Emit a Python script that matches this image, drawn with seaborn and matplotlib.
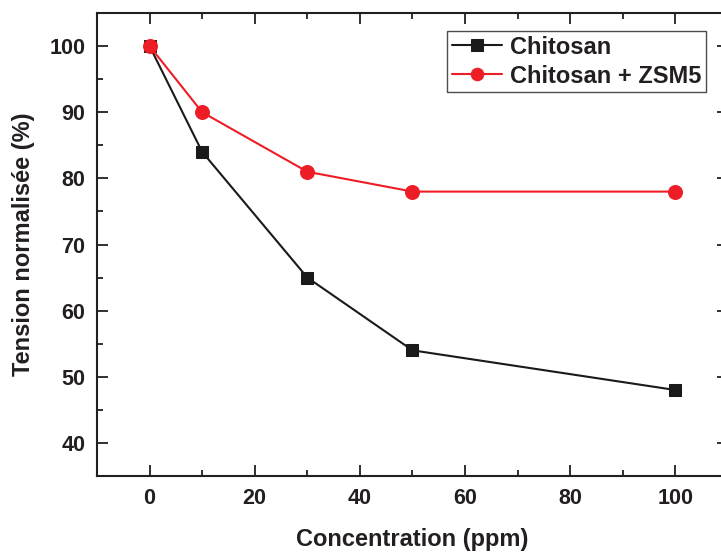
import matplotlib
matplotlib.use("Agg")
import matplotlib.pyplot as plt
from matplotlib.ticker import MultipleLocator
import seaborn as sns
import pandas as pd

concentration = [0, 10, 30, 50, 100]
chitosan = [100, 84, 65, 54, 48]
chitosan_zsm5 = [100, 90, 81, 78, 78]
series_names = ["Chitosan", "Chitosan + ZSM5"]

df = pd.DataFrame({
    "x": concentration * 2,
    "y": chitosan + chitosan_zsm5,
    "s": [series_names[0]] * len(concentration) + [series_names[1]] * len(concentration),
})

sns.set_style("ticks")
plt.rcParams['font.family'] = ['Liberation Sans', 'DejaVu Sans']
plt.rcParams['font.weight'] = 'bold'

fig = plt.figure(figsize=(7.21, 5.52), dpi=100)
ax = fig.add_axes([97/721, 1-476/552, (728-97)/721, (476-13)/552])

sns.lineplot(data=df, x="x", y="y", hue="s", style="s",
             palette={series_names[0]: "#1a1a1a", series_names[1]: "#ee1c25"},
             markers={series_names[0]: "s", series_names[1]: "o"},
             dashes=False, markersize=9, linewidth=1.5,
             ax=ax)
for l in ax.lines:
    l.set_markeredgecolor(l.get_color())
ax.lines[1].set_markersize(10)

ax.set_xlim(-10, 110)
ax.set_ylim(35, 105)
ax.xaxis.set_major_locator(MultipleLocator(20))
ax.xaxis.set_minor_locator(MultipleLocator(10))
ax.yaxis.set_major_locator(MultipleLocator(10))
ax.yaxis.set_minor_locator(MultipleLocator(5))
ax.tick_params(which='both', direction='in', top=True, right=True, width=1.3, colors='#231f20')
ax.tick_params(which='major', length=8, labelsize=15.5, pad=8.5)
ax.tick_params(which='minor', length=4)
for lab in ax.get_xticklabels() + ax.get_yticklabels():
    lab.set_fontweight('bold')
for sp in ax.spines.values():
    sp.set_linewidth(1.5)
    sp.set_color('#231f20')

ax.set_xlabel("Concentration (ppm)", fontsize=17, fontweight='bold', labelpad=13.5, color='#231f20')
ax.set_ylabel("Tension normalisée (%)", fontsize=17, fontweight='bold', labelpad=10.5, color='#231f20')

leg = ax.legend(loc='upper left', bbox_to_anchor=((447-97)/(728-97), 1-(31-13)/(476-13)),
                frameon=True, fancybox=False, edgecolor='#231f20',
                prop={'weight': 'bold', 'size': 17}, handlelength=2.15,
                borderpad=0.2, labelspacing=0.25, handletextpad=0.3, borderaxespad=0)
leg.get_frame().set_linewidth(1.0)
for t in leg.get_texts():
    t.set_color('#231f20')

fig.savefig("out.png", dpi=100)
